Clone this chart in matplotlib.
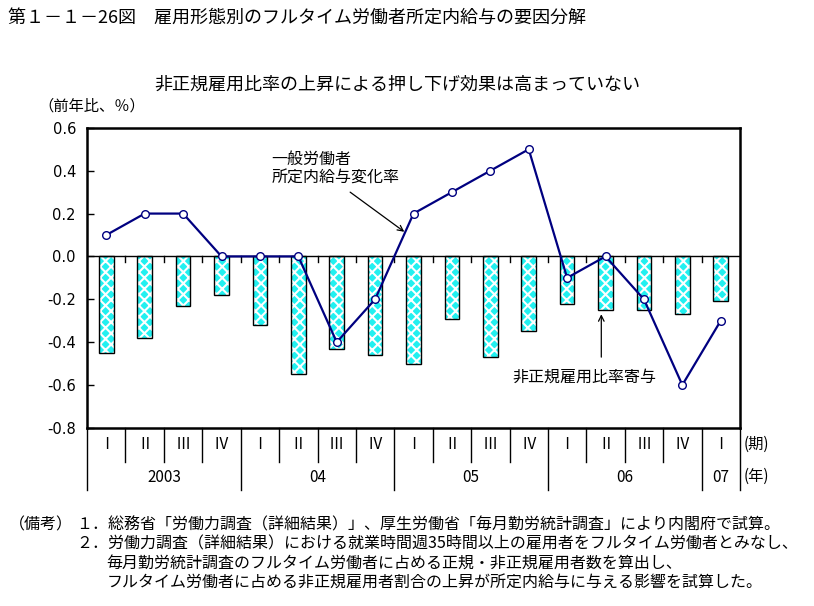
import matplotlib.pyplot as plt
import numpy as np

plt.rcParams['font.family'] = ['Noto Sans CJK JP', 'DejaVu Sans']
plt.rcParams['hatch.linewidth'] = 1.5

quarters = ['Ⅰ', 'Ⅱ', 'Ⅲ', 'Ⅳ', 'Ⅰ', 'Ⅱ', 'Ⅲ', 'Ⅳ', 'Ⅰ', 'Ⅱ', 'Ⅲ', 'Ⅳ',
            'Ⅰ', 'Ⅱ', 'Ⅲ', 'Ⅳ', 'Ⅰ']
years = ['2003', '04', '05', '06', '07']
year_len = [4, 4, 4, 4, 1]

# 非正規雇用比率寄与 (bars)
contrib = [-0.45, -0.38, -0.23, -0.18, -0.32, -0.55, -0.43, -0.46, -0.50,
           -0.29, -0.47, -0.35, -0.22, -0.25, -0.25, -0.27, -0.21]
# 一般労働者 所定内給与変化率 (line)
wage = [0.1, 0.2, 0.2, 0.0, 0.0, 0.0, -0.4, -0.2, 0.2, 0.3, 0.4, 0.5,
        -0.1, 0.0, -0.2, -0.6, -0.3]

fig = plt.figure(figsize=(8.14, 6.06), dpi=100)
ax = fig.add_axes([0.107, 0.294, 0.802, 0.495])

x = np.arange(len(quarters))
# cyan diamonds: white x-hatch on cyan, then black outline
ax.bar(x, contrib, width=0.38, color='#22f0f0', edgecolor='white',
       hatch='xxx', linewidth=0, zorder=2)
ax.bar(x, contrib, width=0.38, color='none', edgecolor='black',
       linewidth=1.0, zorder=3)

ax.plot(x, wage, color='#000080', linewidth=1.6, marker='o', markersize=5.5,
        markerfacecolor='white', markeredgecolor='#000080',
        markeredgewidth=1.0, zorder=5)

ax.axhline(0, color='black', linewidth=1.0, zorder=4)
for b in np.arange(-0.5, len(quarters) - 0.5, 1.0)[1:]:
    ax.plot([b, b], [0, -0.025], color='black', linewidth=1.0, zorder=4)

yt = np.round(np.arange(-0.8, 0.61, 0.2), 1)
ax.set_xlim(-0.5, len(quarters) - 0.5)
ax.set_ylim(-0.8, 0.6)
ax.set_yticks(yt)
ax.set_yticklabels(['%.1f' % (v + 0.0) for v in yt],
                   fontsize=10.5, family=['DejaVu Sans'])
ax.tick_params(axis='y', direction='in', length=5, width=1.0, pad=8)
ax.set_xticks([])
for s in ax.spines.values():
    s.set_linewidth(1.8)
    s.set_color('black')

# category table below the axis
trans = ax.get_xaxis_transform()
r1, r2 = -0.113, -0.207
ax.plot([-0.5, -0.5], [0, r2], transform=trans, color='black', lw=1.0,
        clip_on=False)
for q_i, q in enumerate(quarters):
    ax.text(q_i, r1 / 2, q, transform=trans, ha='center', va='center',
            fontsize=11)
start = -0.5
for y, n in zip(years, year_len):
    for k in range(1, n):
        ax.plot([start + k, start + k], [0, r1], transform=trans,
                color='black', lw=1.0, clip_on=False)
    end = start + n
    ax.plot([end, end], [0, r2], transform=trans, color='black', lw=1.0,
            clip_on=False)
    ax.text((start + end) / 2, (r1 + r2) / 2 - 0.005, y, transform=trans,
            ha='center', va='center', fontsize=11)
    start = end
ax.text(16.6, r1 / 2, '(期)', transform=trans, ha='left', va='center',
        fontsize=11)
ax.text(16.6, (r1 + r2) / 2, '(年)', transform=trans, ha='left',
        va='center', fontsize=11)

# annotations
ax.text(4.3, 0.41, '一般労働者\n所定内給与変化率', fontsize=11.5, ha='left',
        va='center', linespacing=1.1)
ax.annotate('', xy=(7.76, 0.115), xytext=(6.35, 0.30),
            arrowprops=dict(arrowstyle='->', color='black', lw=0.9,
                            shrinkA=0, shrinkB=0))
ax.annotate('', xy=(12.89, -0.27), xytext=(12.89, -0.47),
            arrowprops=dict(arrowstyle='->', color='black', lw=0.9,
                            shrinkA=0, shrinkB=0))
ax.text(10.57, -0.565, '非正規雇用比率寄与', fontsize=11.5, ha='left',
        va='center')

# titles and notes
fig.text(0.010, 0.970, '第１－１－26図　雇用形態別のフルタイム労働者所定内給与の要因分解',
         fontsize=13, ha='left', va='center')
fig.text(0.488, 0.860, '非正規雇用比率の上昇による押し下げ効果は高まっていない',
         fontsize=13, ha='center', va='center')
fig.text(0.047, 0.825, '（前年比、％）', fontsize=11, ha='left', va='center')

fig.text(0.011, 0.134, '（備考）', fontsize=11.5, ha='left', va='center')
notes = [
    ('１．総務省「労働力調査（詳細結果）」、厚生労働省「毎月勤労統計調査」により内閣府で試算。', 0.094),
    ('２．労働力調査（詳細結果）における就業時間週35時間以上の雇用者をフルタイム労働者とみなし、', 0.094),
    ('毎月勤労統計調査のフルタイム労働者に占める正規・非正規雇用者数を算出し、', 0.131),
    ('フルタイム労働者に占める非正規雇用者割合の上昇が所定内給与に与える影響を試算した。', 0.131),
]
for i, (t, xx) in enumerate(notes):
    fig.text(xx, 0.134 - i * 0.032, t, fontsize=11.5, ha='left', va='center')

fig.savefig('out.png', dpi=100)
